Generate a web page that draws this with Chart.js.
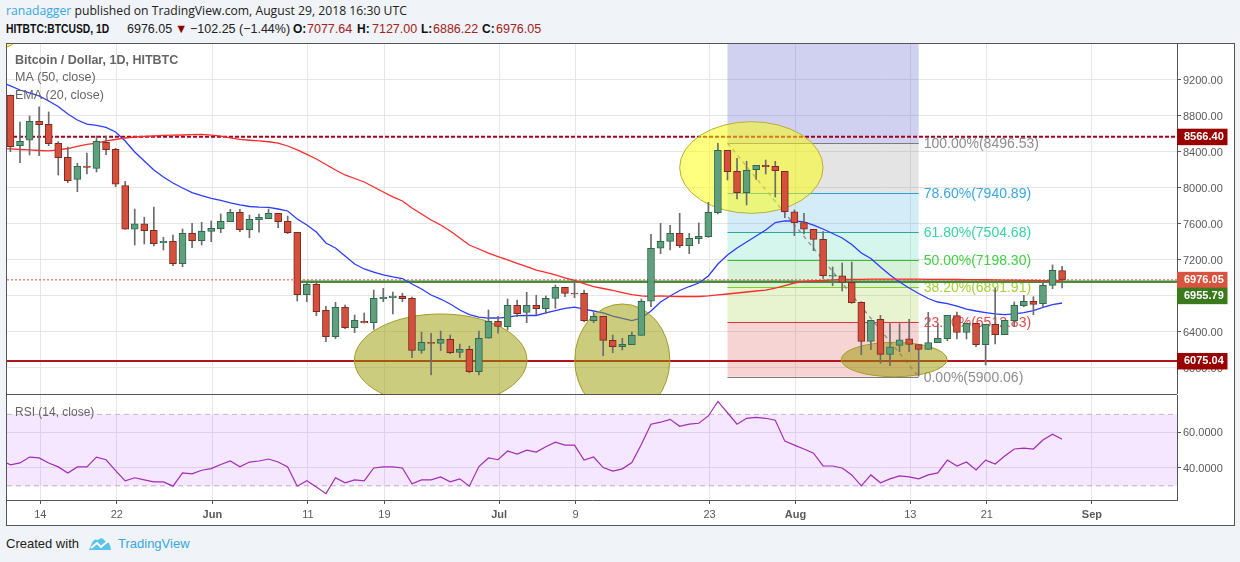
<!DOCTYPE html>
<html>
<head>
<meta charset="utf-8">
<title>BTCUSD</title>
<script src="https://cdn.jsdelivr.net/npm/chart.js@4/dist/chart.umd.min.js"></script>
<style>
    html, body { margin: 0; padding: 0; }
    body { width: 1240px; height: 562px; background: #f0f3f7; position: relative; overflow: hidden; font-family: "Liberation Sans", Arial, sans-serif; }
    .head { position: absolute; left: 6px; font-size: 13px; line-height: 18px; white-space: nowrap; color: #222; }
    .line1 { top: 2px; font-family: "Open Sans", sans-serif; font-size: 12.2px; }
    .seg { position: absolute; top: 20px; font-size: 12.5px; line-height: 18px; white-space: nowrap; color: #222; }
    .seg.bold { font-weight: bold; font-size: 12px; color: #111; }
    .squeeze { transform: scaleX(0.86); transform-origin: left center; }
    .blue { color: #37a8e4; }
    .dn { color: #a32222; }
    #frame { position: absolute; left: 6px; top: 43px; width: 1227px; height: 481px; background: #fff; border: 1px solid #555; }
    #sep { position: absolute; left: 6px; top: 394px; width: 1171px; height: 1px; background: #555; }
    canvas { position: absolute; left: 7px; }
    #mainChart { top: 44px; }
    #rsiChart { top: 395px; }
    #foot { position: absolute; left: 6px; top: 535px; font-size: 13px; line-height: 18px; color: #222; white-space: nowrap; }
    #foot svg { position: absolute; left: 82px; top: 2px; }
    #foot .blue { position: absolute; left: 112px; top: 0; }
</style>
</head>
<body>
<div class="head line1"><span class="blue">ranadagger</span> published on TradingView.com, August 29, 2018 16:30 UTC</div>
<span class="seg bold squeeze" style="left:6px">HITBTC:BTCUSD, 1D</span>
<span class="seg" style="left:127px">6976.05</span>
<span class="seg" style="left:175px;color:#8b0000">▼</span>
<span class="seg" style="left:190px">−102.25 (−1.44%)</span>
<span class="seg bold" style="left:293px">O:</span><span class="seg dn" style="left:307px">7077.64</span>
<span class="seg bold" style="left:357px">H:</span><span class="seg dn" style="left:372px">7127.00</span>
<span class="seg bold" style="left:421px">L:</span><span class="seg dn" style="left:433px">6886.22</span>
<span class="seg bold" style="left:482px">C:</span><span class="seg dn" style="left:496px">6976.05</span>
<div id="frame"></div>
<canvas id="mainChart" width="1226" height="350"></canvas>
<canvas id="rsiChart" width="1226" height="129"></canvas>
<div id="sep"></div>
<div id="foot">Created with
    <svg width="24" height="14" viewBox="0 0 24 14"><path d="M1 13 L4 6 Q6 1 10 3 Q14 -1 17 4 Q22 4 23 13 Z" fill="#5cc3ee"/><path d="M3 11 L9 6 L13 10 L20 4" fill="none" stroke="#fff" stroke-width="2"/></svg>
    <span class="blue">TradingView</span>
</div>

<script>
// candles, one per day, first one is May 11 (day 0)
var opens = [9026,8467,8527,8738,8704,8493,8337,8093,8241,8215,
    8504,8426,8022,7538,7597,7526,7389,7404,7155,7493,
    7411,7515,7544,7622,7726,7533,7644,7655,7715,7626,
    7504,6811,6926,6637,6344,6671,6444,6515,6500,6767,
    6778,6793,6771,6193,6282,6271,6315,6171,6204,5956,
    6327,6515,6456,6693,6615,6693,6656,6771,6893,6830,
    6826,6522,6571,6304,6233,6256,6360,6738,7327,7404,
    7493,7356,7433,7456,7722,8415,8182,7944,8200,8249,
    8238,8182,7733,7611,7538,7426,7018,7022,6948,6726,
    6293,6538,6149,6249,6322,6256,6204,6278,6322,6578,
    6393,6493,6256,6482,6367,6522,6689,6738,6711,6915,7077.64];
var highs = [9030,8730,8797,8897,8841,8511,8452,8271,8385,8574,
    8574,8437,8071,7763,7671,7785,7449,7474,7541,7604,
    7615,7630,7708,7760,7760,7696,7708,7763,7715,7685,
    7504,6956,6956,6682,6727,6696,6585,6608,6863,6882,
    6841,6826,6785,6396,6382,6407,6363,6263,6241,6407,
    6641,6571,6763,6752,6838,6804,6797,6919,6893,6974,
    6863,6627,6571,6363,6327,6396,6763,7482,7604,7582,
    7715,7493,7608,7837,8493,8415,8326,8293,8249,8307,
    8293,8182,7752,7715,7538,7511,7119,7163,7174,6733,
    6526,6582,6489,6489,6538,6256,6615,6485,6582,6619,
    6493,6493,6482,6882,6526,6730,6804,6789,6952,7141,7127];
var lows = [8400,8278,8363,8355,8467,8141,8055,7955,8152,8174,
    8366,8011,7535,7363,7374,7352,7308,7133,7122,7333,
    7363,7400,7500,7622,7511,7444,7507,7655,7555,7489,
    6741,6733,6578,6289,6322,6433,6389,6497,6426,6733,
    6597,6733,6111,6160,5919,6189,6156,6111,5944,5919,
    6327,6385,6419,6567,6500,6585,6600,6660,6789,6778,
    6511,6500,6133,6167,6197,6256,6360,6678,7267,7308,
    7333,7267,7378,7449,7708,8085,7874,7808,8093,8152,
    7896,7667,7467,7485,7300,6993,6911,6852,6715,6144,
    6200,6049,6022,6178,6178,5907,6204,6278,6300,6319,
    6319,6233,6030,6263,6367,6456,6678,6589,6667,6878,6886.22];
var closes = [8455,8515,8738,8700,8489,8333,8078,8238,8226,8515,
    8422,8038,7538,7597,7522,7378,7404,7155,7493,7411,
    7515,7549,7626,7726,7533,7648,7671,7715,7622,7500,
    6811,6926,6622,6344,6671,6444,6526,6497,6771,6782,
    6797,6767,6193,6282,6271,6315,6167,6204,5956,6327,
    6515,6460,6693,6600,6693,6656,6771,6893,6826,6819,
    6522,6571,6304,6233,6260,6360,6738,7327,7404,7493,
    7356,7437,7460,7726,8415,8178,7944,8193,8249,8233,
    8189,7733,7611,7538,7426,7022,7026,6948,6722,6293,
    6526,6149,6233,6311,6260,6204,6278,6327,6582,6393,
    6493,6256,6482,6367,6526,6693,6738,6704,6915,7082,6976.05];

// these three start one day earlier (May 10), the line comes in from the left edge
var maLine = [8430,
    8430,8424,8419,8413,8408,8419,8435,8458,8480,8496,
    8519,8535,8552,8563,8569,8574,8580,8583,8585,8589,
    8593,8583,8572,8552,8537,8527,8519,8510,8496,8463,
    8419,8369,8319,8258,8196,8141,8102,8063,8007,7952,
    7897,7852,7774,7708,7641,7585,7519,7441,7363,7319,
    7274,7235,7197,7158,7124,7085,7058,7030,6997,6969,
    6935,6902,6880,6858,6835,6813,6797,6791,6797,6793,
    6791,6791,6791,6797,6808,6819,6830,6841,6852,6863,
    6885,6913,6941,6958,6963,6969,6975,6980,6980,6982,
    6984,6985,6985,6984,6984,6983,6982,6982,6981,6980,
    6979,6978,6977,6975,6974,6973,6971,6970,6968,6966,6965];
var emaLine = [9174,
    9130,9085,9052,9019,8963,8902,8819,8752,8707,8691,
    8669,8619,8519,8396,8296,8196,8119,8052,7996,7946,
    7913,7880,7858,7830,7808,7791,7783,7782,7763,7741,
    7652,7585,7508,7385,7330,7241,7152,7097,7063,7030,
    7008,6991,6930,6874,6808,6763,6708,6641,6591,6563,
    6552,6552,6563,6578,6582,6580,6608,6635,6658,6672,
    6652,6630,6608,6574,6547,6524,6552,6630,6730,6797,
    6858,6902,6941,7019,7152,7252,7330,7397,7463,7530,
    7613,7630,7630,7619,7585,7541,7491,7441,7369,7274,
    7213,7119,7030,6952,6885,6824,6769,6730,6713,6685,
    6652,6630,6613,6597,6589,6597,6611,6635,6669,6702,6719];
var rsiLine = [44.4,
    41.7,42.8,46.1,45.6,42.8,40.6,37.2,40.6,40.6,46.1,
    44.6,38.5,32.8,34.5,33.3,32.2,32.2,29.8,37.2,36.7,
    38.7,39.6,41.9,43.9,40.6,43.3,43.9,45.0,43.3,40.6,
    29.8,32.8,29.4,25.6,34.5,31.7,33.3,32.8,40.0,40.6,
    40.6,40.0,31.1,33.3,33.3,35.0,32.2,33.9,29.8,40.8,
    45.6,44.6,49.5,47.8,50.0,48.9,51.9,54.4,52.8,52.8,
    44.4,46.1,40.2,38.2,39.5,43.0,53.3,64.5,65.6,67.2,
    63.3,64.5,65.0,69.1,77.2,70.9,64.5,67.8,68.3,67.8,
    66.7,55.0,52.8,50.6,48.3,41.1,41.1,40.0,36.1,30.0,
    36.1,31.7,33.9,35.6,35.0,33.9,36.1,37.2,44.4,41.1,
    43.3,38.9,44.4,42.2,46.7,50.6,51.1,50.6,55.6,58.9,56.1];

var xTickDays = [3, 11, 21, 31, 39, 51, 59, 73, 82, 94, 102, 113];
var xTickLabels = ['14', '22', 'Jun', '11', '19', 'Jul', '9', '23', 'Aug', '13', '21', 'Sep'];
var priceTicks = [6000, 6400, 6800, 7200, 7600, 8000, 8400, 8800, 9200];
var rsiTicks = [40, 60];

var resistance = 8566.40;
var support = 6075.04;
var lastPrice = 6976.05;
var greenLevel = 6955.79;
var greenLevelStart = 30.4;

// fibonacci retracement drawn between these two days
var fibStart = 75;
var fibEnd = 95;
var fibPrices = [8496.53, 7940.89, 7504.68, 7198.30, 6891.91, 6512.83, 5900.06];
var fibLabels = ['100.00%(8496.53)', '78.60%(7940.89)', '61.80%(7504.68)', '50.00%(7198.30)', '38.20%(6891.91)', '23.60%(6512.83)', '0.00%(5900.06)'];
var fibLineColors = ['#7c7c7c', '#2a9fd8', '#2aa89a', '#35bf3f', '#84cf12', '#d63a3a', '#7c7c7c'];
var fibTextColors = ['#8d8d8d', '#3ba6e0', '#36d3a2', '#42d044', '#a2d235', '#e8494b', '#8d8d8d'];
var fibFills = ['rgba(120,120,120,0.2)', 'rgba(42,159,216,0.2)', 'rgba(38,210,160,0.2)', 'rgba(53,191,63,0.2)', 'rgba(150,205,40,0.22)', 'rgba(214,58,58,0.22)'];

// ellipses as [center day, center price, half width in days, half height in price]
var yellowCircles = [[77.5, 8224, 7.5, 509], [-1.2, 9660, 1.8, 110]];
var oliveCircles = [[45, 6086, 9.02, 511], [64, 6086, 4.97, 622], [92.44, 6091, 5.53, 191]];

var tagPrices = [resistance, lastPrice, greenLevel, support];
var tagColors = ['#990000', '#d9533f', '#3a7a1d', '#990000'];
var tagShift = [0, 0, 14, 0];

// candles sit about a pixel left of the grid lines
var candleShift = -0.12;
var xMin = -0.48;
var xMax = 121.9;

var labelFont = '"Liberation Sans", Arial, sans-serif';
var gridColor = '#e6e6e6';
var axisColor = '#555555';

var candleDays = closes.map(function(c, i) { return i + candleShift; });

function fixAxis(width, height) {
    return function(scale) {
        if (width !== null) scale.width = width;
        if (height !== null) scale.height = height;
        scale.paddingTop = 0;
        scale.paddingBottom = 0;
        scale.paddingLeft = 0;
        scale.paddingRight = 0;
    };
}

function setTicks(list) {
    return function(scale) {
        scale.ticks = list.map(function(v) { return { value: v }; });
    };
}

function flatLine(price, from, color, width, dash) {
    return {
        type: 'line',
        data: [{ x: from, y: price }, { x: xMax, y: price }],
        borderColor: color,
        borderWidth: width,
        borderDash: dash || [],
        pointRadius: 0,
        order: 5
    };
}

function dailyLine(values, color, width) {
    return {
        type: 'line',
        data: values.map(function(v, i) { return { x: i - 1 + candleShift, y: v }; }),
        borderColor: color,
        borderWidth: width,
        pointRadius: 0,
        tension: 0,
        order: 4
    };
}

function drawEllipse(chart, e, fill, stroke) {
    var x = chart.scales.x, y = chart.scales.y;
    var cx = x.getPixelForValue(e[0] + candleShift);
    var cy = y.getPixelForValue(e[1]);
    var rx = Math.abs(x.getPixelForValue(e[0] + e[2]) - x.getPixelForValue(e[0]));
    var ry = Math.abs(y.getPixelForValue(e[1] + e[3]) - y.getPixelForValue(e[1]));
    var ctx = chart.ctx;
    ctx.beginPath();
    ctx.ellipse(cx, cy, rx, ry, 0, 0, Math.PI * 2);
    ctx.fillStyle = fill;
    ctx.fill();
    ctx.strokeStyle = stroke;
    ctx.lineWidth = 1;
    ctx.stroke();
}

const fibPlugin = {
    id: 'fib',
    beforeDatasetsDraw: function(chart) {
        var ctx = chart.ctx, x = chart.scales.x, y = chart.scales.y;
        var left = x.getPixelForValue(fibStart + candleShift);
        var right = x.getPixelForValue(fibEnd + candleShift);
        ctx.save();
        // the lavender part goes up to the top of the pane
        ctx.fillStyle = 'rgba(80,80,200,0.27)';
        ctx.fillRect(left, chart.chartArea.top, right - left, y.getPixelForValue(fibPrices[0]) - chart.chartArea.top);
        fibFills.forEach(function(c, i) {
            var top = y.getPixelForValue(fibPrices[i]);
            ctx.fillStyle = c;
            ctx.fillRect(left, top, right - left, y.getPixelForValue(fibPrices[i + 1]) - top);
        });
        ctx.font = '14px ' + labelFont;
        ctx.textBaseline = 'middle';
        fibPrices.forEach(function(p, i) {
            var py = Math.round(y.getPixelForValue(p)) + 0.5;
            ctx.strokeStyle = fibLineColors[i];
            ctx.lineWidth = 1;
            ctx.beginPath();
            ctx.moveTo(left, py);
            ctx.lineTo(right, py);
            ctx.stroke();
            ctx.fillStyle = fibTextColors[i];
            ctx.fillText(fibLabels[i], right + 5, py + 0.5);
        });
        ctx.restore();
    }
};

const circlePlugin = {
    id: 'circles',
    // goes under the candles but over the moving averages
    beforeDatasetDraw: function(chart, args) {
        if (args.index !== 1) return;
        var a = chart.chartArea, ctx = chart.ctx;
        ctx.save();
        ctx.beginPath();
        ctx.rect(a.left, a.top, a.right - a.left, a.bottom - a.top);
        ctx.clip();
        yellowCircles.forEach(function(e) { drawEllipse(chart, e, 'rgba(255,255,0,0.5)', '#b5ae3c'); });
        oliveCircles.forEach(function(e) { drawEllipse(chart, e, 'rgba(153,153,0,0.5)', '#a39c26'); });
        ctx.restore();
    }
};

const tagPlugin = {
    id: 'tags',
    afterDatasetsDraw: function(chart) {
        var ctx = chart.ctx, y = chart.scales.y, a = chart.chartArea;
        ctx.save();
        ctx.font = 'bold 11px ' + labelFont;
        ctx.textBaseline = 'middle';
        tagPrices.forEach(function(p, i) {
            var py = y.getPixelForValue(p) + tagShift[i];
            ctx.fillStyle = tagColors[i];
            ctx.fillRect(a.right, py - 8, 50.5, 16.5);
            ctx.fillStyle = '#ffffff';
            ctx.fillText(p.toFixed(2), a.right + 7, py + 0.5);
        });
        ctx.restore();
    }
};

const titlePlugin = {
    id: 'titles',
    afterDatasetsDraw: function(chart) {
        var ctx = chart.ctx;
        ctx.save();
        ctx.textBaseline = 'middle';
        ctx.fillStyle = '#666666';
        ctx.font = 'bold 12.5px ' + labelFont;
        ctx.fillText('Bitcoin / Dollar, 1D, HITBTC', 8, 17);
        ctx.font = '12.5px ' + labelFont;
        ctx.fillText('MA (50, close)', 8, 34);
        ctx.fillText('EMA (20, close)', 8, 51.5);
        ctx.restore();
    }
};

const rsiTitlePlugin = {
    id: 'rsiTitle',
    afterDatasetsDraw: function(chart) {
        var ctx = chart.ctx;
        ctx.save();
        ctx.textBaseline = 'middle';
        ctx.fillStyle = '#666666';
        ctx.font = '12px ' + labelFont;
        ctx.fillText('RSI (14, close)', 8, 18);
        ctx.restore();
    }
};

new Chart(document.getElementById('mainChart'), {
    type: 'bar',
    data: {
        datasets: [
            {
                // candle bodies
                data: candleDays.map(function(d, i) { return { x: d, y: [opens[i], closes[i]] }; }),
                backgroundColor: closes.map(function(c, i) { return c < opens[i] ? '#d4503c' : '#5f9f7e'; }),
                borderColor: closes.map(function(c, i) { return c < opens[i] ? '#7d2a20' : '#2e6b4b'; }),
                borderWidth: 1,
                borderSkipped: false,
                barThickness: 7,
                grouped: false,
                order: 1
            },
            {
                // wicks
                data: candleDays.map(function(d, i) { return { x: d, y: [lows[i], highs[i]] }; }),
                backgroundColor: '#6c6c6c',
                barThickness: 1,
                grouped: false,
                order: 2
            },
            flatLine(resistance, xMin, '#a3001e', 2, [4, 2]),
            flatLine(support, xMin, '#b4141c', 2),
            flatLine(greenLevel, greenLevelStart + candleShift, '#4c8a3a', 2.5),
            flatLine(lastPrice, xMin, '#d9533f', 1, [2, 2]),
            {
                // dashed trend line of the fib tool
                type: 'line',
                data: [{ x: fibStart + candleShift, y: fibPrices[0] }, { x: fibEnd + candleShift, y: fibPrices[6] }],
                borderColor: '#8a8a8a',
                borderWidth: 1.3,
                borderDash: [4, 4],
                pointRadius: 0,
                order: 5
            },
            dailyLine(maLine, '#ff2a2a', 1.3),
            dailyLine(emaLine, '#2a3cff', 1.3)
        ]
    },
    options: {
        responsive: false,
        animation: false,
        layout: { padding: 0 },
        plugins: { legend: { display: false }, tooltip: { enabled: false } },
        scales: {
            x: {
                type: 'linear',
                min: xMin,
                max: xMax,
                offset: false,
                afterBuildTicks: setTicks(xTickDays),
                afterFit: fixAxis(null, 0),
                grid: { color: gridColor, offset: false, drawTicks: false },
                border: { display: false },
                ticks: { display: false, autoSkip: false }
            },
            y: {
                position: 'right',
                min: 5708,
                max: 9596,
                afterBuildTicks: setTicks(priceTicks),
                afterFit: fixAxis(56, null),
                grid: { color: gridColor, tickColor: axisColor, tickLength: 4 },
                border: { color: axisColor },
                ticks: {
                    color: '#5a5a5a',
                    padding: 2,
                    labelOffset: 1,
                    font: { size: 11, family: labelFont },
                    callback: function(value) { return value.toFixed(2); }
                }
            }
        }
    },
    plugins: [fibPlugin, circlePlugin, tagPlugin, titlePlugin]
});

new Chart(document.getElementById('rsiChart'), {
    type: 'line',
    data: {
        datasets: [
            {
                data: [{ x: xMin, y: 70 }, { x: xMax, y: 70 }],
                borderColor: '#c4b3cc',
                borderWidth: 1,
                borderDash: [5, 4],
                pointRadius: 0,
                fill: '+1',
                backgroundColor: 'rgba(153,40,255,0.11)',
                order: 3
            },
            {
                data: [{ x: xMin, y: 30 }, { x: xMax, y: 30 }],
                borderColor: '#c4b3cc',
                borderWidth: 1,
                borderDash: [5, 4],
                pointRadius: 0,
                order: 3
            },
            {
                data: rsiLine.map(function(v, i) { return { x: i - 1 + candleShift, y: v }; }),
                borderColor: '#a32cb8',
                borderWidth: 1.2,
                pointRadius: 0,
                tension: 0,
                order: 1
            }
        ]
    },
    options: {
        responsive: false,
        animation: false,
        layout: { padding: 0 },
        plugins: { legend: { display: false }, tooltip: { enabled: false } },
        scales: {
            x: {
                type: 'linear',
                min: xMin,
                max: xMax,
                afterBuildTicks: setTicks(xTickDays),
                afterFit: fixAxis(null, 24),
                grid: { color: gridColor, tickColor: axisColor, tickLength: 4 },
                border: { color: axisColor },
                ticks: {
                    autoSkip: false,
                    maxRotation: 0,
                    padding: 4,
                    color: '#5a5a5a',
                    font: function(ctx) {
                        var isMonth = ctx.tick && isNaN(Number(xTickLabels[xTickDays.indexOf(ctx.tick.value)]));
                        return { size: 11, family: labelFont, weight: isMonth ? 'bold' : 'normal' };
                    },
                    callback: function(value) { return xTickLabels[xTickDays.indexOf(value)]; }
                }
            },
            y: {
                position: 'right',
                min: 22.06,
                max: 80.83,
                afterBuildTicks: setTicks(rsiTicks),
                afterFit: fixAxis(56, null),
                grid: { color: gridColor, tickColor: axisColor, tickLength: 4 },
                border: { color: axisColor },
                ticks: {
                    color: '#5a5a5a',
                    padding: 2,
                    labelOffset: 1,
                    font: { size: 11, family: labelFont },
                    callback: function(value) { return value.toFixed(4); }
                }
            }
        }
    },
    plugins: [rsiTitlePlugin]
});
</script>
</body>
</html>
